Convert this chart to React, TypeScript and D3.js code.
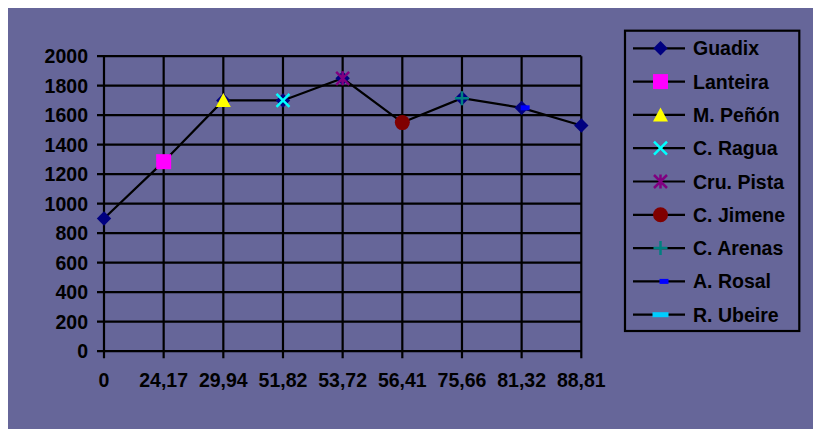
import React, { useEffect, useRef } from 'react';
import * as d3 from 'd3';

const categories = ['0', '24,17', '29,94', '51,82', '53,72', '56,41', '75,66', '81,32', '88,81'];
const yTicks = [0, 200, 400, 600, 800, 1000, 1200, 1400, 1600, 1800, 2000];

const guadix = [900, 1285, 1700, 1700, 1850, 1550, 1715, 1650, 1530];
const lanteira = [null, 1285, null, null, null, null, null, null, null];
const mPenon = [null, null, 1700, null, null, null, null, null, null];
const cRagua = [null, null, null, 1700, null, null, null, null, null];
const cruPista = [null, null, null, null, 1850, null, null, null, null];
const cJimene = [null, null, null, null, null, 1550, null, null, null];
const cArenas = [null, null, null, null, null, null, 1715, null, null];
const aRosal = [null, null, null, null, null, null, null, 1650, null];
const rUbeire = [null, null, null, null, null, null, null, null, null];

const seriesNames = ['Guadix', 'Lanteira', 'M. Peñón', 'C. Ragua', 'Cru. Pista', 'C. Jimene', 'C. Arenas', 'A. Rosal', 'R. Ubeire'];
const seriesValues = [guadix, lanteira, mPenon, cRagua, cruPista, cJimene, cArenas, aRosal, rUbeire];
const seriesShapes = ['diamond', 'square', 'triangle', 'x', 'star', 'circle', 'plus', 'dash', 'longdash'];
const seriesColors = ['#000080', '#FF00FF', '#FFFF00', '#00FFFF', '#800080', '#800000', '#008080', '#0000FF', '#00CCFF'];

const BG = '#666699';
const FONT = '"Liberation Sans", Arial, sans-serif';
const FS = 19.5;

// draw one marker shape centred on (x, y)
function drawMarker(g: any, shape: string, color: string, x: number, y: number) {
  const m = g.append('g').attr('transform', `translate(${x},${y})`);
  if (shape === 'diamond') {
    m.append('path').attr('d', 'M0,-7.2L7.2,0L0,7.2L-7.2,0Z').attr('fill', color);
  } else if (shape === 'square') {
    m.append('rect').attr('x', -7.5).attr('y', -7.5).attr('width', 15).attr('height', 15).attr('fill', color);
  } else if (shape === 'triangle') {
    m.append('path').attr('d', 'M0,-7.5L7.5,6.5L-7.5,6.5Z').attr('fill', color);
  } else if (shape === 'circle') {
    m.append('circle').attr('r', 7.5).attr('fill', color);
  } else if (shape === 'x') {
    m.append('path').attr('d', 'M-6.5,-6.5L6.5,6.5M6.5,-6.5L-6.5,6.5')
      .attr('stroke', color).attr('stroke-width', 2.5).attr('fill', 'none');
  } else if (shape === 'star') {
    m.append('path').attr('d', 'M-6.5,-6.5L6.5,6.5M6.5,-6.5L-6.5,6.5M0,-7L0,7')
      .attr('stroke', color).attr('stroke-width', 2.5).attr('fill', 'none');
  } else if (shape === 'plus') {
    m.append('path').attr('d', 'M-7,0L7,0M0,-7L0,7')
      .attr('stroke', color).attr('stroke-width', 2.5).attr('fill', 'none');
  } else if (shape === 'dash') {
    m.append('rect').attr('x', -1).attr('y', -2.5).attr('width', 9).attr('height', 5).attr('fill', color);
  } else if (shape === 'longdash') {
    m.append('rect').attr('x', -8).attr('y', -2.5).attr('width', 16).attr('height', 5).attr('fill', color);
  }
}

const Chart = () => {
  const ref = useRef<SVGSVGElement>(null);

  useEffect(() => {
    document.documentElement.style.overflow = 'hidden';
    const svg = d3.select(ref.current);
    svg.selectAll('*').remove();

    // svg is offset by the 8px body margin
    const g = svg.append('g').attr('transform', 'translate(-8,-8)');

    g.append('rect').attr('x', 8).attr('y', 8).attr('width', 813).attr('height', 421).attr('fill', BG);

    const x = d3.scalePoint<string>().domain(categories).range([104, 581.3]);
    const y = d3.scaleLinear().domain([0, 2000]).range([351.2, 56.2]);

    // horizontal gridlines + y ticks
    g.selectAll('.hgrid').data(yTicks).enter().append('line')
      .attr('x1', 97).attr('x2', 581.3)
      .attr('y1', d => y(d)).attr('y2', d => y(d))
      .attr('stroke', '#000').attr('stroke-width', 2.2);

    // vertical gridlines + x ticks
    g.selectAll('.vgrid').data(categories).enter().append('line')
      .attr('x1', d => x(d)!).attr('x2', d => x(d)!)
      .attr('y1', y(2000)).attr('y2', y(0) + 7)
      .attr('stroke', '#000').attr('stroke-width', 2.2);

    g.selectAll('.ylab').data(yTicks).enter().append('text')
      .attr('x', 88).attr('y', d => y(d)).attr('dy', '0.36em')
      .attr('text-anchor', 'end')
      .attr('font-family', FONT).attr('font-weight', 'bold').attr('font-size', FS)
      .attr('fill', '#000').text(d => d);

    g.selectAll('.xlab').data(categories).enter().append('text')
      .attr('x', d => x(d)!).attr('y', 387)
      .attr('text-anchor', 'middle')
      .attr('font-family', FONT).attr('font-weight', 'bold').attr('font-size', FS)
      .attr('fill', '#000').text(d => d);

    // Guadix line
    const line = d3.line<number>().x((d, i) => x(categories[i])!).y(d => y(d));
    g.append('path').attr('d', line(guadix)!).attr('fill', 'none')
      .attr('stroke', '#000').attr('stroke-width', 2.2);

    seriesValues.forEach((vals, si) => {
      vals.forEach((v, i) => {
        if (v == null) return;
        drawMarker(g, seriesShapes[si], seriesColors[si], x(categories[i])!, y(v));
      });
    });

    // legend
    g.append('rect').attr('x', 625).attr('y', 30.7).attr('width', 174.3).attr('height', 300.3)
      .attr('fill', 'none').attr('stroke', '#000').attr('stroke-width', 2.2);

    seriesNames.forEach((name, i) => {
      const ly = 48.3 + i * 33.3;
      g.append('line').attr('x1', 633).attr('x2', 685).attr('y1', ly).attr('y2', ly)
        .attr('stroke', '#000').attr('stroke-width', 2.2);
      drawMarker(g, seriesShapes[i], seriesColors[i], 660.5, ly);
      g.append('text').attr('x', 693).attr('y', ly).attr('dy', '0.36em')
        .attr('font-family', FONT).attr('font-weight', 'bold').attr('font-size', FS)
        .attr('fill', '#000').text(name);
    });
  }, []);

  return <svg ref={ref} width={813} height={421} style={{ display: 'block' }} />;
};

export default function App() {
  return <Chart />;
}
